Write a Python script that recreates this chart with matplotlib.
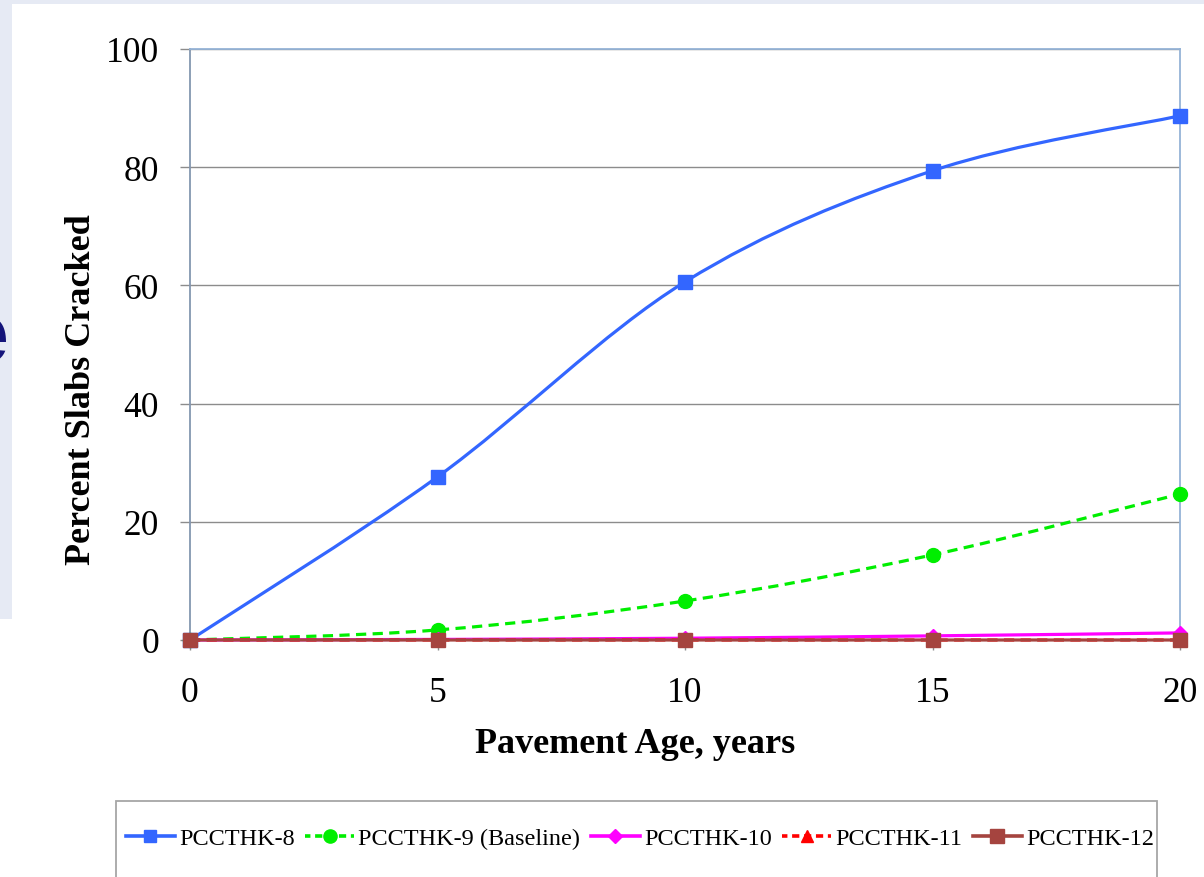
import matplotlib
matplotlib.use("Agg")
import matplotlib.pyplot as plt
from matplotlib.path import Path
from matplotlib.patches import PathPatch, Rectangle
from matplotlib.lines import Line2D

# ---- data -------------------------------------------------------------
ages = [0, 5, 10, 15, 20]
pccthk_8 = [0.0, 27.6, 60.6, 79.4, 88.7]
pccthk_9 = [0.0, 1.7, 6.6, 14.4, 24.7]
pccthk_10 = [0.0, 0.1, 0.3, 0.7, 1.2]
pccthk_11 = [0.0, 0.0, 0.0, 0.0, 0.0]
pccthk_12 = [0.0, 0.0, 0.0, 0.0, 0.0]
series_names = ["PCCTHK-8", "PCCTHK-9 (Baseline)", "PCCTHK-10", "PCCTHK-11", "PCCTHK-12"]
x_ticks = [0, 5, 10, 15, 20]
y_ticks = [0, 20, 40, 60, 80, 100]
x_title = "Pavement Age, years"
y_title = "Percent Slabs Cracked"

W, H = 1204, 878
fig = plt.figure(figsize=(W / 100, H / 100), dpi=100)
fig.patch.set_facecolor("white")


def fx(px):
    return px / W


def fy(py):
    return 1 - py / H


# slide backdrop strips around the chart panel
fig.add_artist(Rectangle((0, fy(5)), 1, 5 / H, transform=fig.transFigure,
                         facecolor="#E6EAF4", edgecolor="none", zorder=0))
fig.add_artist(Rectangle((0, fy(620)), fx(12), 615 / H, transform=fig.transFigure,
                         facecolor="#E6EAF4", edgecolor="none", zorder=0))
fig.text(fx(9), fy(340), "e", fontsize=62, fontweight="bold", family="Liberation Sans",
         color="#14147A", ha="right", va="center", zorder=1)

serif = "Liberation Serif"

ax = fig.add_axes([fx(190), fy(641), fx(1180) - fx(190), (641 - 50) / H])
ax.set_xlim(0, 20)
ax.set_ylim(0, 100)
ax.set_xticks(x_ticks)
ax.set_yticks(y_ticks)
ax.set_xticklabels([str(v) for v in x_ticks], fontsize=25.5, family=serif)
ax.set_yticklabels([str(v) for v in y_ticks], fontsize=25.5, family=serif)
ax.tick_params(axis="y", direction="out", length=7.2, width=1, color="#8C8C8C", pad=15)
ax.tick_params(axis="x", direction="out", length=7.2, width=1, color="#8C8C8C", pad=19)
ax.yaxis.grid(True, color="#8C8C8C", linewidth=1.0)
ax.set_axisbelow(True)
for side, col in (("top", "#95B3D7"), ("right", "#95B3D7"), ("left", "#8497B0"), ("bottom", "#8C8C8C")):
    ax.spines[side].set_color(col)
    ax.spines[side].set_linewidth(1.3)

ax.set_xlabel(x_title, fontsize=26, fontweight="bold", family=serif, labelpad=12)
ax.xaxis.set_label_coords((635 - 190) / 990, -(745 - 641) / 591)
ax.set_ylabel(y_title, fontsize=26, fontweight="bold", family=serif)
ax.yaxis.set_label_coords(-(190 - 82) / 990, (641 - 390) / 591)
ax.xaxis.label.set_va("center")
ax.yaxis.label.set_va("center")


def smooth_path(xs, ys):
    """Catmull-Rom style Bezier path through the points."""
    pts = list(zip(xs, ys))
    verts = [pts[0]]
    codes = [Path.MOVETO]
    n = len(pts)
    for i in range(n - 1):
        p0 = pts[i - 1] if i > 0 else pts[i]
        p1 = pts[i]
        p2 = pts[i + 1]
        p3 = pts[i + 2] if i + 2 < n else pts[i + 1]
        c1 = (p1[0] + (p2[0] - p0[0]) / 6, p1[1] + (p2[1] - p0[1]) / 6)
        c2 = (p2[0] - (p3[0] - p1[0]) / 6, p2[1] - (p3[1] - p1[1]) / 6)
        verts += [c1, c2, p2]
        codes += [Path.CURVE4] * 3
    return Path(verts, codes)


dash = (0, (3.2, 2.0))
short_dash = (0.5, (2.0, 1.3))
styles = [
    (pccthk_8, "#3366FF", "-", "s", 9.5),
    (pccthk_9, "#00EE00", dash, "o", 10),
    (pccthk_10, "#FF00FF", "-", "D", 7),
    (pccthk_11, "#FF0000", dash, "^", 9),
    (pccthk_12, "#A5443F", "-", "s", 10),
]

handles = []
for k, (vals, col, ls, mk, ms) in enumerate(styles):
    z = 3 + k
    patch = PathPatch(smooth_path(ages, vals), facecolor="none", edgecolor=col,
                      linewidth=2.3, linestyle=ls, zorder=z, clip_on=False)
    ax.add_patch(patch)
    ax.plot(ages, vals, linestyle="none", marker=mk, markersize=ms, color=col,
            markeredgecolor=col, zorder=z + 0.5, clip_on=False)
    handles.append(Line2D([], [], color=col, linestyle=(short_dash if ls == dash else ls),
                          linewidth=2.6, marker=mk, markersize=ms * 0.95,
                          markeredgecolor=col))

# legend frame running off the bottom edge
fig.add_artist(Rectangle((fx(116), fy(900)), fx(1157) - fx(116), 98 / H,
                         transform=fig.transFigure, facecolor="white",
                         edgecolor="#A6A6A6", linewidth=1.3, zorder=1))
leg = fig.legend(handles, series_names, loc="center", bbox_to_anchor=(fx(640), fy(839)),
                 ncol=5, frameon=False, prop={"family": serif, "size": 17.5},
                 handlelength=2.0, handletextpad=0.17, columnspacing=0.45,
                 borderpad=0, borderaxespad=0)
leg.set_zorder(2)

fig.savefig("out.png", dpi=100, facecolor=fig.get_facecolor())
